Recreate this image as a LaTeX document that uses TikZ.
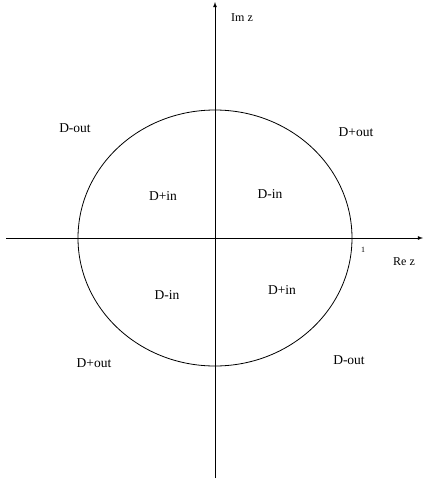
\documentclass[tikz,border=0pt]{standalone}
\usepackage{fontspec}
\setmainfont{Liberation Serif}
\usetikzlibrary{positioning}

\begin{document}
\begin{tikzpicture}[x=1pt, y=-1pt, >=latex, line width=0.8pt,
		region/.style={font=\fontsize{13.5}{15}\selectfont},
		axislabel/.style={font=\fontsize{12}{14}\selectfont}]
		
		% Frame
		\useasboundingbox (0,0) rectangle (424,480);
		
		% Axes
		\coordinate (origin) at (215,238);
		\coordinate (xstart) at (6,238);
		\coordinate (xend) at (423,238);
		\coordinate (ystart) at (215,478);
		\coordinate (yend) at (215,2);
		\draw[->] (xstart) -- (xend);
		\draw[->] (ystart) -- (yend);
		
		% Unit circle
		\draw (origin) ellipse [x radius=137, y radius=128];
		
		% Labels
		\node[axislabel] (imz) at (242,18) {Im z};
		\node[axislabel] (rez) at (404,262) {Re z};
		\node[font=\fontsize{8}{9}\selectfont] (one) at (363,250) {1};
		
		% Regions
		\node[region] (dout1) at (75,128) {D-out};
		\node[region] (dpout1) at (356,132) {D+out};
		\node[region] (dpin1) at (163,196) {D+in};
		\node[region] (din1) at (270,194) {D-in};
		\node[region] (din2) at (167,295) {D-in};
		\node[region] (dpin2) at (282,290) {D+in};
		\node[region] (dpout2) at (94,363) {D+out};
		\node[region] (dout2) at (349,360) {D-out};
		
	\end{tikzpicture}
\end{document}
